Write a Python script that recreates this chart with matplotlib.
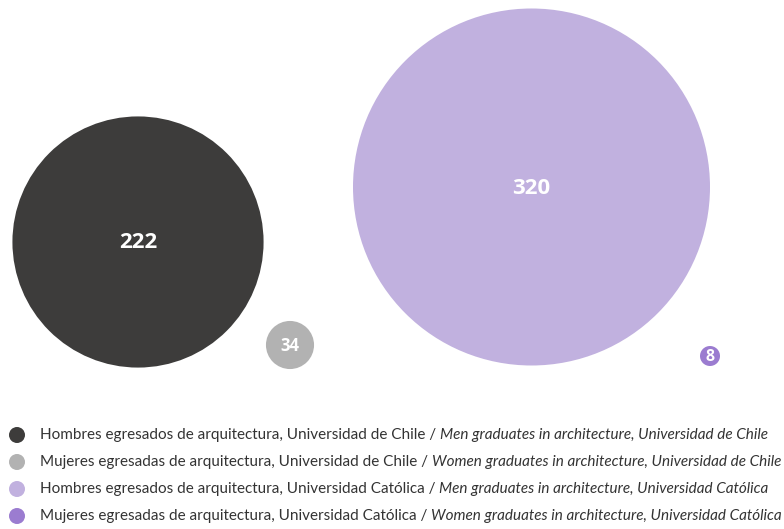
import matplotlib.pyplot as plt
from matplotlib.patches import Circle

# --- DATA ---
values = [222, 34, 320, 8]
labels_es = [
    'Hombres egresados de arquitectura, Universidad de Chile',
    'Mujeres egresadas de arquitectura, Universidad de Chile',
    'Hombres egresados de arquitectura, Universidad Católica',
    'Mujeres egresadas de arquitectura, Universidad Católica',
]
labels_en = [
    'Men graduates in architecture, Universidad de Chile',
    'Women graduates in architecture, Universidad de Chile',
    'Men graduates in architecture, Universidad Católica',
    'Women graduates in architecture, Universidad Católica',
]

# --- LAYOUT / STYLE ---
colors = ['#3d3c3b', '#b2b2b2', '#c1b1df', '#9b7cd0']
centers_x = [138, 290, 531.5, 710]
centers_y = [242, 345, 187, 356]
label_sizes = [16, 12, 16, 11.5]
min_diam, max_diam = 20, 357

W, H = 784, 529
fig = plt.figure(figsize=(W / 100, H / 100), dpi=100)
ax = fig.add_axes([0, 0, 1, 1])
ax.set_xlim(0, W)
ax.set_ylim(H, 0)
ax.set_aspect('equal')
ax.axis('off')

# bubble size: linear between the smallest and largest value
vmin, vmax = min(values), max(values)
for v, c, cx, cy, fs in zip(values, colors, centers_x, centers_y, label_sizes):
    diam = min_diam + (v - vmin) / (vmax - vmin) * (max_diam - min_diam)
    ax.add_patch(Circle((cx, cy), diam / 2, color=c, lw=0))
    ax.text(cx, cy + 1, str(v), color='white', fontsize=fs, fontweight='bold',
            family='Open Sans', ha='center', va='center')

# --- LEGEND ---
renderer = fig.canvas.get_renderer()
legend_y = [435, 462, 489, 516]
for es, en, c, ly in zip(labels_es, labels_en, colors, legend_y):
    ax.add_patch(Circle((17, ly), 8, color=c, lw=0))
    t = ax.text(40, ly, es + ' / ', fontsize=11, family='Lato', color='#333333',
                ha='left', va='center')
    bb = t.get_window_extent(renderer)
    x_end = ax.transData.inverted().transform((bb.x1, bb.y0))[0]
    ax.text(x_end, ly, en, fontsize=11, family='Lato', style='italic',
            color='#333333', ha='left', va='center')

fig.savefig('out.png', dpi=100)
